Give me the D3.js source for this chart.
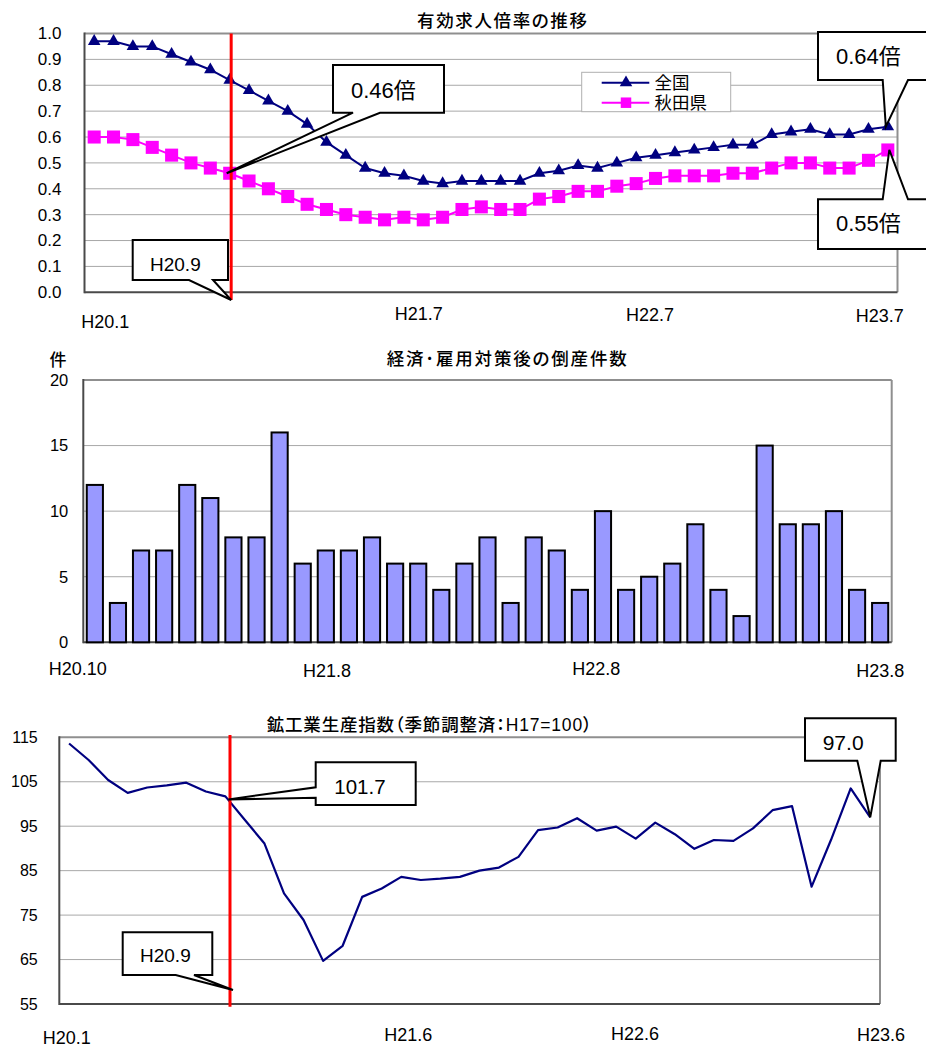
<!DOCTYPE html>
<html><head><meta charset="utf-8">
<script src="https://cdn.jsdelivr.net/npm/d3@7"></script>
<style>
body{margin:0;background:#fff}
svg{display:block}
text{font-family:"Liberation Sans","Noto Sans CJK JP",sans-serif;fill:#000}
.ttl{font-feature-settings:"palt"}
</style>
</head><body>
<svg id="c" width="926" height="1048"></svg>
<script>
// ---------- helpers for month category labels ----------
function months(y, m, n){const out=[];for(let k=0;k<n;k++){out.push("H"+y+"."+m);m++;if(m>12){m=1;y++;}}return out;}

// ---------- DATA: chart 1 有効求人倍率 ----------
const ratioCats = months(20,2,42);
const national = [0.97,0.97,0.95,0.95,0.92,0.89,0.86,0.82,0.78,0.74,0.70,0.65,0.58,0.53,0.48,0.46,0.45,0.43,0.42,
  0.43,0.43,0.43,0.43,0.46,0.47,0.49,0.48,0.50,0.52,0.53,0.54,0.55,0.56,0.57,0.57,0.61,0.62,0.63,0.61,0.61,0.63,0.64];
const akita = [0.60,0.60,0.59,0.56,0.53,0.50,0.48,0.46,0.43,0.40,0.37,0.34,0.32,0.30,0.29,0.28,0.29,0.28,0.29,
  0.32,0.33,0.32,0.32,0.36,0.37,0.39,0.39,0.41,0.42,0.44,0.45,0.45,0.45,0.46,0.46,0.48,0.50,0.50,0.48,0.48,0.51,0.55];
const ratioYTicks = [0,0.1,0.2,0.3,0.4,0.5,0.6,0.7,0.8,0.9,1.0];
const ratioXTickCats = ["H20.2","H21.7","H22.7","H23.7"];
const ratioXTickLabels = ["H20.1","H21.7","H22.7","H23.7"];
const ratioSeriesNames = ["全国","秋田県"];

// ---------- DATA: chart 2 倒産件数 ----------
const bankCats = months(20,10,35);
const bankCounts = [12,3,7,7,12,11,8,8,16,6,7,7,8,6,6,4,6,8,3,8,7,4,10,4,5,6,9,4,2,15,9,9,10,4,3];
const bankYTicks = [0,5,10,15,20];
const bankXTicks = ["H20.10","H21.8","H22.8","H23.8"];

// ---------- DATA: chart 3 鉱工業生産指数 ----------
const iipCats = months(20,1,42);
const iip = [113.6,109.9,105.4,102.5,103.7,104.2,104.8,102.8,101.7,96.4,91.1,79.9,73.9,64.7,68.1,79.1,81.0,83.6,82.9,83.2,83.6,
  85.0,85.7,88.1,94.1,94.7,96.8,94.0,94.9,92.2,95.8,93.2,89.9,91.9,91.7,94.5,98.6,99.5,81.4,92.0,103.5,97.0];
const iipYTicks = [55,65,75,85,95,105,115];
const iipXTicks = ["H20.1","H21.6","H22.6","H23.6"];

const titles = ["有効求人倍率の推移","経済･雇用対策後の倒産件数","鉱工業生産指数（季節調整済：H17=100）"];

// ---------- drawing ----------
const svg = d3.select("#c");
const NAVY="#000080", MAG="#FF00FF", RED="#FF0000", GRID="#a8a8a8", FRAME_LT="#8f8f8f", FRAME_DK="#4a4a4a";

function frame(g, L, R, T, B){
  g.append("line").attr("x1",L).attr("x2",R).attr("y1",T).attr("y2",T).attr("stroke",FRAME_LT).attr("stroke-width",2);
  g.append("line").attr("x1",R).attr("x2",R).attr("y1",T).attr("y2",B).attr("stroke",FRAME_LT).attr("stroke-width",2);
  g.append("line").attr("x1",L).attr("x2",L).attr("y1",T-1).attr("y2",B+1).attr("stroke",FRAME_DK).attr("stroke-width",2);
  g.append("line").attr("x1",L).attr("x2",R).attr("y1",B).attr("y2",B).attr("stroke",FRAME_DK).attr("stroke-width",2);
}
function grid(g, y, vals, L, R){
  g.selectAll(null).data(vals).join("line")
    .attr("x1",L).attr("x2",R).attr("y1",d=>y(d)).attr("y2",d=>y(d))
    .attr("stroke",GRID).attr("stroke-width",1);
}
function callout(g, box, side, a, b, tip, text, fs, tx, ty){
  const [x0,y0,x1,y1]=box; let p;
  if(side==="bottom") p=[[x0,y0],[x1,y0],[x1,y1],[b,y1],tip,[a,y1],[x0,y1]];
  else if(side==="top") p=[[x0,y0],[a,y0],tip,[b,y0],[x1,y0],[x1,y1],[x0,y1]];
  else p=[[x0,y0],[x1,y0],[x1,y1],[x0,y1],[x0,b],tip,[x0,a]];
  g.append("path").attr("d","M"+p.map(q=>q.join(",")).join("L")+"Z")
    .attr("fill","#fff").attr("stroke","#000").attr("stroke-width",2).attr("stroke-linejoin","miter");
  g.append("text").attr("x",tx).attr("y",ty).attr("font-size",fs).text(text);
}
function title(g, t, x0, x1, base, fs){
  g.append("text").attr("class","ttl").attr("x",x0).attr("y",base).attr("font-size",fs).attr("font-weight",500)
    .attr("textLength",x1-x0).attr("lengthAdjust","spacing").text(t);
}
function styleAxis(ax, fs){
  ax.select(".domain").remove();
  ax.selectAll("text").attr("font-size",fs).attr("fill","#000").style("font-family",'"Liberation Sans","Noto Sans CJK JP",sans-serif');
}

// ===== Chart 1 =====
{
  const L=84.5,R=897.5,T=33.5,B=292.3;
  const g=svg.append("g");
  const x=d3.scaleBand().domain(ratioCats).range([L,R]);
  const xc=c=>x(c)+x.bandwidth()/2;
  const y=d3.scaleLinear().domain([0,1]).range([B,T]);
  title(g,titles[0],417,587,27,17.5);
  grid(g,y,ratioYTicks.slice(1,-1),L,R);
  frame(g,L,R,T,B);
  const ya=g.append("g").attr("transform",`translate(${L},0)`)
    .call(d3.axisLeft(y).tickValues(ratioYTicks).tickFormat(d3.format(".1f")).tickSize(0).tickPadding(23));
  styleAxis(ya,17);
  const xa=g.append("g").attr("transform",`translate(0,${B})`)
    .call(d3.axisBottom(x).tickValues(ratioXTickCats).tickFormat((d,i)=>ratioXTickLabels[i]).tickSize(0));
  styleAxis(xa,18);
  const nudgeX=[11,-4.5,-5.5,-8], baseY=[36,27.5,28.5,30];
  xa.selectAll("text").attr("dy",0).attr("y",(d,i)=>baseY[i]).attr("dx",(d,i)=>nudgeX[i]);

  const line=d3.line().x((d,i)=>xc(ratioCats[i])).y(d=>y(d));
  g.append("path").attr("d",line(national)).attr("fill","none").attr("stroke",NAVY).attr("stroke-width",2);
  g.append("path").attr("d",line(akita)).attr("fill","none").attr("stroke",MAG).attr("stroke-width",2);
  const tri=d3.symbol(d3.symbolTriangle,68)(), sq=d3.symbol(d3.symbolSquare,170)();
  g.selectAll(null).data(national).join("path").attr("d",tri)
    .attr("transform",(d,i)=>`translate(${xc(ratioCats[i])},${y(d)})`).attr("fill",NAVY);
  g.selectAll(null).data(akita).join("path").attr("d",sq)
    .attr("transform",(d,i)=>`translate(${xc(ratioCats[i])},${y(d)})`).attr("fill",MAG);

  // legend
  const lg=g.append("g");
  lg.append("rect").attr("x",581.7).attr("y",72.3).attr("width",149).attr("height",39.4).attr("fill","#fff").attr("stroke","#b0b0b0");
  [[NAVY,tri,82.7],[MAG,d3.symbol(d3.symbolSquare,110)(),102.7]].forEach(([c,s,yy],k)=>{
    lg.append("line").attr("x1",601.7).attr("x2",649.3).attr("y1",yy).attr("y2",yy).attr("stroke",c).attr("stroke-width",2);
    lg.append("path").attr("d",s).attr("transform",`translate(626,${yy})`).attr("fill",c);
    lg.append("text").attr("x",654.5).attr("y",yy).attr("dy","0.36em").attr("font-size",17.5).text(ratioSeriesNames[k]);
  });

  // red marker line at H20.9
  const redX=xc("H20.9")+1.5;
  g.append("line").attr("x1",redX).attr("x2",redX).attr("y1",T).attr("y2",300).attr("stroke",RED).attr("stroke-width",3);

  const k9=ratioCats.indexOf("H20.9"), kL=ratioCats.length-1;
  callout(g,[333,65,444,112.7],"bottom",353,380,[xc(ratioCats[k9])-3,y(akita[k9])],akita[k9].toFixed(2)+"倍",22,351,98);
  callout(g,[132.7,240,228,280],"bottom",189,213,[redX,300],"H20.9",19,150,270.5);
  callout(g,[818,32,932,80],"bottom",882.7,908,[xc(ratioCats[kL])-2,y(national[kL])],national[kL].toFixed(2)+"倍",22,836,64);
  callout(g,[818,199.3,932,249],"top",882.7,908,[xc(ratioCats[kL])+1.5,y(akita[kL])],akita[kL].toFixed(2)+"倍",22,836,231);
}

// ===== Chart 2 =====
{
  const L=83.3,R=891.7,T=380,B=642.3;
  const g=svg.append("g");
  const x=d3.scaleBand().domain(bankCats).range([L,R]).paddingInner(0.3).paddingOuter(0.15);
  const y=d3.scaleLinear().domain([0,20]).range([B,T]);
  title(g,titles[1],386.7,626.7,365,17.5);
  g.append("text").attr("x",58).attr("y",360).attr("dy","0.36em").attr("text-anchor","middle").attr("font-size",17).attr("font-weight",500).text("件");
  grid(g,y,bankYTicks.slice(1,-1),L,R);
  frame(g,L,R,T,B);
  const ya=g.append("g").attr("transform",`translate(${L},0)`)
    .call(d3.axisLeft(y).tickValues(bankYTicks).tickSize(0).tickPadding(15));
  styleAxis(ya,16.5);
  const xa=g.append("g").attr("transform",`translate(0,${B})`)
    .call(d3.axisBottom(x).tickValues(bankXTicks).tickSize(0));
  styleAxis(xa,18);
  const nudgeX=[-17,1.3,-6.8,0], baseY=[32.7,35,32.7,35];
  xa.selectAll("text").attr("dy",0).attr("y",(d,i)=>baseY[i]).attr("dx",(d,i)=>nudgeX[i]);
  g.selectAll(null).data(bankCounts).join("rect")
    .attr("x",(d,i)=>x(bankCats[i])).attr("width",x.bandwidth())
    .attr("y",d=>y(d)).attr("height",d=>B-y(d))
    .attr("fill","#9999FF").attr("stroke","#000").attr("stroke-width",2);
}

// ===== Chart 3 =====
{
  const L=59.3,R=880,T=737.3,B=1004;
  const g=svg.append("g");
  const x=d3.scaleBand().domain(iipCats).range([L,R]);
  const xc=c=>x(c)+x.bandwidth()/2;
  const y=d3.scaleLinear().domain([55,115]).range([B,T]);
  grid(g,y,iipYTicks.slice(1,-1),L,R);
  frame(g,L,R,T,B);
  title(g,titles[2],266.7,591.7,731,17.5);
  const ya=g.append("g").attr("transform",`translate(${L},0)`)
    .call(d3.axisLeft(y).tickValues(iipYTicks).tickSize(0).tickPadding(21.6));
  styleAxis(ya,16);
  const xa=g.append("g").attr("transform",`translate(0,${B})`)
    .call(d3.axisBottom(x).tickValues(iipXTicks).tickSize(0));
  styleAxis(xa,18);
  const nudgeX=[-2.4,7,-0.8,10.8], baseY=[39.5,36.5,36,36.5];
  xa.selectAll("text").attr("dy",0).attr("y",(d,i)=>baseY[i]).attr("dx",(d,i)=>nudgeX[i]);
  const line=d3.line().x((d,i)=>xc(iipCats[i])).y(d=>y(d));
  g.append("path").attr("d",line(iip)).attr("fill","none").attr("stroke",NAVY).attr("stroke-width",2.2).attr("stroke-linejoin","round");

  const redX=xc("H20.9")+4.6;
  g.append("line").attr("x1",redX).attr("x2",redX).attr("y1",735).attr("y2",1006.7).attr("stroke",RED).attr("stroke-width",3);
  const k9=iipCats.indexOf("H20.9"), kL=iipCats.length-1;
  callout(g,[315.7,762.3,415.7,805],"left",787.3,797.7,[xc(iipCats[k9])+3,y(iip[k9])+3],iip[k9].toFixed(1),20.5,334.3,794.3);
  callout(g,[805,718.3,895.7,760.7],"bottom",857.3,880.7,[xc(iipCats[kL]),y(iip[kL])],iip[kL].toFixed(1),21,822.7,750);
  callout(g,[122.7,932.3,212.3,975],"bottom",175.7,194,[redX+3,990],"H20.9",19,140,962.3);
}
</script>
</body></html>
